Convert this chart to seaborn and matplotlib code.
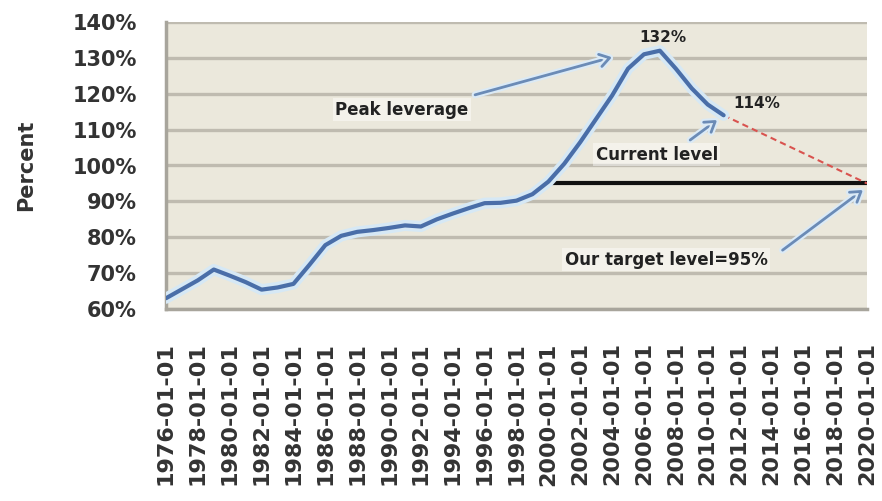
import matplotlib
matplotlib.use("Agg")
import matplotlib.pyplot as plt
import matplotlib.patheffects as pe
import seaborn as sns

# Household leverage, percent of income, annual observations
years = list(range(1976, 2012))
leverage = [63, 65.5, 68, 71, 69.3, 67.5, 65.4, 66, 67, 72.3,
            77.8, 80.4, 81.5, 82, 82.6, 83.3, 83, 85, 86.6, 88.1,
            89.5, 89.6, 90.2, 92, 95.5, 100.5, 106.5, 113, 119.5, 127,
            131, 132, 127, 121.5, 117, 114]

# Target level and the projected path towards it
target_years = [2000, 2020]
target_level = [95, 95]
path_years = [2011, 2020]
path_level = [114, 95]

tick_years = list(range(1976, 2021, 2))
tick_labels = [f"{y}-01-01" for y in tick_years]
y_ticks = [60, 70, 80, 90, 100, 110, 120, 130, 140]
y_tick_labels = [f"{v}%" for v in y_ticks]

sns.set_style("whitegrid", {
    "axes.facecolor": "#ebe8dc",
    "grid.color": "#bfbbb0",
    "axes.edgecolor": "#a8a59c",
})
plt.rcParams["font.family"] = ["DejaVu Sans"]

fig = plt.figure(figsize=(8.82, 5.01), dpi=100)
ax = fig.add_axes([166 / 882, 1 - 309 / 501, 701 / 882, 287 / 501])

halo = [pe.Stroke(linewidth=8, foreground="#d6e8f5"), pe.Normal()]
sns.lineplot(x=years, y=leverage, ax=ax, color="#4a6ea8", linewidth=3,
             path_effects=halo, zorder=4)
sns.lineplot(x=target_years, y=target_level, ax=ax, color="#111111",
             linewidth=3, zorder=3)
sns.lineplot(x=path_years, y=path_level, ax=ax, color="#d9534f",
             linewidth=1.5, linestyle=(0, (3, 2)), zorder=3)

ax.set_xlim(1976, 2020)
ax.set_ylim(60, 140)
ax.set_xticks(tick_years)
ax.set_xticklabels(tick_labels, rotation=90, fontsize=16, fontweight="bold",
                   color="#333333")
ax.set_yticks(y_ticks)
ax.set_yticklabels(y_tick_labels, fontsize=15, fontweight="bold",
                   color="#333333")
ax.tick_params(axis="x", length=0, pad=24)
ax.tick_params(axis="y", length=0, pad=21)
ax.grid(axis="y", linewidth=2.4, color="#bfbbb0")
ax.grid(axis="x", visible=False)
for side in ("top", "right"):
    ax.spines[side].set_visible(False)
for side in ("left", "bottom"):
    ax.spines[side].set_linewidth(2.5)
    ax.spines[side].set_color("#a8a59c")

ax.set_ylabel("Percent", fontsize=15, fontweight="bold", color="#333333")
ax.yaxis.set_label_coords(-0.185, 0.5)

arrow_kw = dict(arrowstyle="->,head_length=0.7,head_width=0.45",
                color="#6b8bb6", lw=2, shrinkA=0, shrinkB=0,
                path_effects=[pe.Stroke(linewidth=5, foreground="#dbeaf6"),
                              pe.Normal()])
text_kw = dict(fontsize=12, fontweight="bold", color="#222222",
               ha="center", va="center",
               bbox=dict(boxstyle="square,pad=0.15", facecolor="white",
                         edgecolor="none", alpha=0.45))

# Callout arrows (start, end) in data coordinates
ax.annotate("", xy=(2004.0, 130.2), xytext=(1995.4, 119.7), arrowprops=arrow_kw)
ax.annotate("", xy=(2010.6, 112.7), xytext=(2008.9, 107.1), arrowprops=arrow_kw)
ax.annotate("", xy=(2019.75, 93.2), xytext=(2014.7, 76.4), arrowprops=arrow_kw)

ax.text(1990.8, 115.5, "Peak leverage", **text_kw)
ax.text(2006.8, 103.0, "Current level", **text_kw)
ax.text(2007.4, 73.7, "Our target level=95%", **text_kw)

ax.text(2007.2, 135.8, "132%", fontsize=11, fontweight="bold",
        color="#222222", ha="center", va="center")
ax.text(2013.1, 117.4, "114%", fontsize=11, fontweight="bold",
        color="#222222", ha="center", va="center")

fig.savefig("out.png", dpi=100)
